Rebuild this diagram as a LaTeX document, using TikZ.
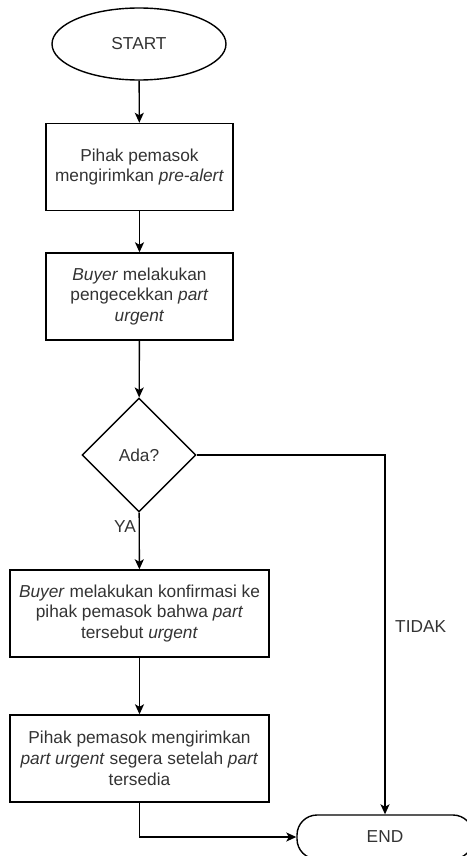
\documentclass[tikz,border=0pt]{standalone}
\usepackage{fontspec}
\setmainfont{Liberation Sans}
\usetikzlibrary{shapes.geometric,arrows.meta}
\definecolor{txt}{HTML}{333333}
\begin{document}
\begin{tikzpicture}[x=1pt,y=-1pt,
  every node/.style={font=\fontsize{17.3}{20.8}\selectfont, text=txt, align=center},
  shp/.style={draw=black, line width=1.4pt, inner sep=2pt},
  proc/.style={shp, rectangle, minimum height=87pt},
  conn/.style={line width=1.4pt, -{Stealth[length=10pt,width=9pt,inset=2.5pt]}},
  lbl/.style={inner sep=1pt}]
\useasboundingbox (0,0) rectangle (466,856);
\node[shp, ellipse, minimum width=174pt, minimum height=72pt] (start) at (139,44) {START};
\node[proc, minimum width=187pt] (b1) at (139.5,167) {Pihak pemasok\\mengirimkan \textit{pre-alert}};
\node[proc, minimum width=187pt] (b2) at (139.5,296.5) {\textit{Buyer} melakukan\\pengecekkan \textit{part}\\\textit{urgent}};
\node[shp, diamond, minimum width=114pt, minimum height=114pt, inner sep=0pt] (d) at (139,455) {Ada?};
\node[proc, minimum width=259pt] (b3) at (139.5,613.5) {\textit{Buyer} melakukan konfirmasi ke\\pihak pemasok bahwa \textit{part}\\tersebut \textit{urgent}};
\node[proc, minimum width=259pt] (b4) at (139.5,758.5) {Pihak pemasok mengirimkan\\\textit{part urgent} segera setelah \textit{part}\\tersedia};
\node[shp, rectangle, rounded corners=20pt, minimum width=176pt, minimum height=44pt] (end) at (385,837) {END};
\draw[conn] (start) -- (b1);
\draw[conn] (b1) -- (b2);
\draw[conn] (b2) -- (d);
\draw[conn] (d) -- (b3);
\node[lbl, anchor=east] (ya) at (137,527) {YA};
\draw[conn] (b3) -- (b4);
\draw[conn] (d.east) -| (end.north);
\node[lbl, anchor=west] (tidak) at (394,627) {TIDAK};
\draw[conn] (b4.south) |- (end.west);
\end{tikzpicture}
\end{document}
